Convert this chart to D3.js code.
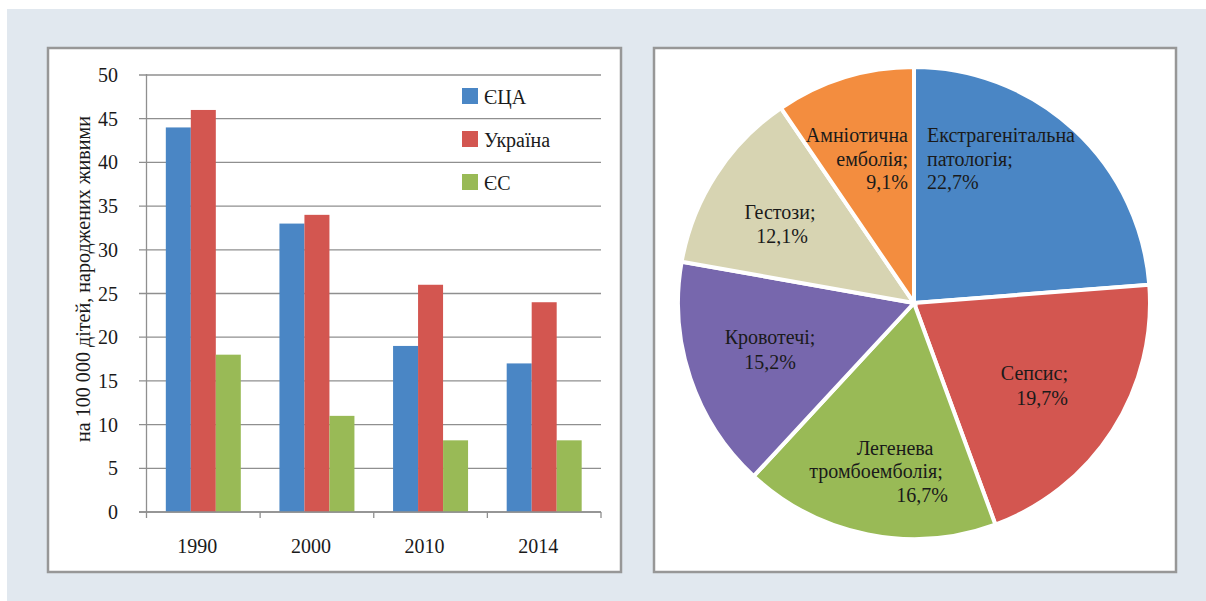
<!DOCTYPE html>
<html>
<head>
<meta charset="utf-8">
<script src="https://cdn.jsdelivr.net/npm/d3@7"></script>
<style>
  html, body { margin: 0; padding: 0; background: #fff; }
  svg { display: block; }
  text { font-family: "Liberation Serif", "Times New Roman", serif; fill: #1a1a1a; }
</style>
</head>
<body>
<svg id="chart" width="1206" height="601"></svg>
<script>
// bar chart data
const years = ['1990', '2000', '2010', '2014'];
const seriesNames = ['ЄЦА', 'Україна', 'ЄС'];
const usa = [44, 33, 19, 17];
const ukraine = [46, 34, 26, 24];
const eu = [18, 11, 8.2, 8.2];
const yTicks = [0, 5, 10, 15, 20, 25, 30, 35, 40, 45, 50];
const yLabel = 'на 100 000 дітей, народжених живими';

// pie data
const causes = ['Екстрагенітальна патологія', 'Сепсис', 'Легенева тромбоемболія', 'Кровотечі', 'Гестози', 'Амніотична емболія'];
const shares = [22.7, 19.7, 16.7, 15.2, 12.1, 9.1];
const shareLabels = ['22,7%', '19,7%', '16,7%', '15,2%', '12,1%', '9,1%'];

const barColors = ['#4a86c5', '#d35650', '#99ba56'];
const pieColors = ['#4a86c5', '#d35650', '#99ba56', '#7767ad', '#d7d4b2', '#f38d3f'];

const svg = d3.select('#chart');

// page background + panels
svg.append('rect').attr('x', 7).attr('y', 9).attr('width', 1199).attr('height', 592).attr('fill', '#e1e8ef');
[[48, 48, 573, 524], [654, 48, 522, 524]].forEach(p => {
  svg.append('rect')
    .attr('x', p[0]).attr('y', p[1]).attr('width', p[2]).attr('height', p[3])
    .attr('fill', '#fff').attr('stroke', '#979797').attr('stroke-width', 2.5);
});

// ---- bar chart ----
const y = d3.scaleLinear().domain([0, 50]).range([512, 75]);
const x0 = d3.scaleBand().domain(years).range([146.5, 601]).paddingInner(0.34).paddingOuter(0.17);
const x1 = d3.scaleBand().domain(seriesNames).range([0, x0.bandwidth()]);
const xEdge = d3.scaleBand().domain(years).range([146.5, 601]);

const bars = svg.append('g');

// gridlines with tick marks
bars.append('g').selectAll('line').data(yTicks).enter().append('line')
  .attr('x1', 139).attr('x2', 601)
  .attr('y1', d => y(d)).attr('y2', d => y(d))
  .attr('stroke', '#8f8f8f').attr('stroke-width', 1.3);

bars.append('g').selectAll('text').data(yTicks).enter().append('text')
  .attr('x', 118).attr('y', d => y(d) + 7)
  .attr('text-anchor', 'end').attr('font-size', 20)
  .text(d => d);

const table = years.map((yr, i) => ({ year: yr, values: [usa[i], ukraine[i], eu[i]] }));

bars.append('g').selectAll('g').data(table).enter().append('g')
  .attr('transform', d => `translate(${x0(d.year)},0)`)
  .selectAll('rect').data(d => d.values.map((v, k) => ({ key: seriesNames[k], v, k })))
  .enter().append('rect')
  .attr('x', d => x1(d.key))
  .attr('width', x1.bandwidth())
  .attr('y', d => y(d.v))
  .attr('height', d => y(0) - y(d.v))
  .attr('fill', d => barColors[d.k]);

// axes lines
bars.append('line').attr('x1', 146.5).attr('x2', 146.5).attr('y1', 74).attr('y2', 512)
  .attr('stroke', '#8f8f8f').attr('stroke-width', 1.3);
bars.append('line').attr('x1', 139).attr('x2', 601).attr('y1', 512).attr('y2', 512)
  .attr('stroke', '#8f8f8f').attr('stroke-width', 1.3);
const edges = years.map(d => xEdge(d)).concat([601]);
bars.append('g').selectAll('line').data(edges).enter().append('line')
  .attr('x1', d => d).attr('x2', d => d).attr('y1', 512).attr('y2', 518)
  .attr('stroke', '#8f8f8f').attr('stroke-width', 1.3);

bars.append('g').selectAll('text').data(years).enter().append('text')
  .attr('x', d => x0(d) + x0.bandwidth() / 2 - 6)
  .attr('y', 553)
  .attr('text-anchor', 'middle').attr('font-size', 20)
  .text(d => d);

// y title, sized to span the same length as the original
const yTitle = bars.append('text')
  .attr('transform', 'translate(90,279) rotate(-90)')
  .attr('text-anchor', 'middle').attr('font-size', 20)
  .text(yLabel);
const len = yTitle.node().getComputedTextLength();
if (len > 0) yTitle.attr('font-size', 20 * 326 / len);

// legend
const legend = bars.append('g').selectAll('g').data(seriesNames).enter().append('g')
  .attr('transform', (d, i) => `translate(462,${88 + i * 43})`);
legend.append('rect').attr('width', 16).attr('height', 16).attr('fill', (d, i) => barColors[i]);
legend.append('text').attr('x', 22).attr('y', 16).attr('font-size', 20).text(d => d);

// ---- pie chart ----
const cx = 914, cy = 303, R = 236;
const pie = d3.pie().sort(null).value(d => d);
const arc = d3.arc().innerRadius(0).outerRadius(R);
const pg = svg.append('g').attr('transform', `translate(${cx},${cy})`);

pg.selectAll('path').data(pie(shares)).enter().append('path')
  .attr('d', arc)
  .attr('fill', (d, i) => pieColors[i])
  .attr('stroke', '#fff').attr('stroke-width', 4).attr('stroke-linejoin', 'miter');

// label layout: line offsets relative to pie center
const labelLayout = [
  { anchor: 'start',  lines: [[13, -161], [13, -137.5], [13, -114]] },
  { anchor: 'end',    lines: [[154, 77], [154, 102]] },
  { anchor: 'middle', lines: [[-19, 152], [-38, 175], [8, 199]] },
  { anchor: 'middle', lines: [[-144, 41], [-144, 66]] },
  { anchor: 'middle', lines: [[-134, -84], [-132, -60]] },
  { anchor: 'end',    lines: [[-6, -161], [-6, -137.5], [-6, -114]] }
];
const labelText = causes.map((c, i) => {
  const words = c.split(' ');
  words[words.length - 1] += ';';
  return words.concat([shareLabels[i]]);
});

labelLayout.forEach((L, i) => {
  L.lines.forEach((p, j) => {
    pg.append('text')
      .attr('x', p[0]).attr('y', p[1])
      .attr('text-anchor', L.anchor).attr('font-size', 20)
      .text(labelText[i][j]);
  });
});
</script>
</body>
</html>
